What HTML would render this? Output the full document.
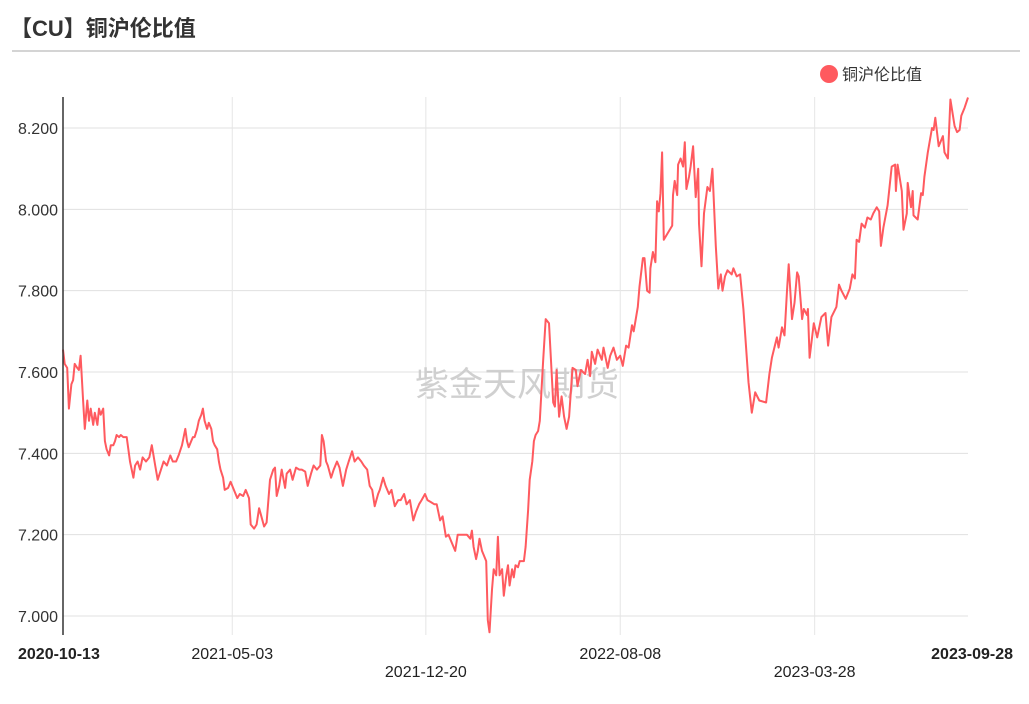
<!DOCTYPE html>
<html><head><meta charset="utf-8"><style>
body{margin:0;background:#fff;width:1029px;height:699px;overflow:hidden;font-family:"Liberation Sans","Noto Sans CJK SC",sans-serif}
</style></head><body>
<svg id="chart" width="1029" height="699" xmlns="http://www.w3.org/2000/svg" font-family="Liberation Sans, Noto Sans CJK SC, sans-serif">
<text x="10" y="36" font-size="22" font-weight="bold" fill="#333">【CU】铜沪伦比值</text>
<line x1="12" y1="51" x2="1020" y2="51" stroke="#aaa" stroke-width="1"/>
<g><circle cx="829" cy="74" r="9" fill="#ff5a5f"/><text x="842" y="80" font-size="16" fill="#333">铜沪伦比值</text></g>
<g id="grid"></g><g id="yticks"></g><g id="xticks"></g>
<text x="517" y="396" font-size="34" fill="#ccc" text-anchor="middle" opacity="0.9">紫金天风期货</text>
<path id="series" fill="none" stroke="#ff5a5f" stroke-width="2" stroke-linejoin="round"/>
<line x1="63" y1="97" x2="63" y2="635" stroke="#333" stroke-width="1.5"/>
</svg>
<script>
const days=[0,2,5,7,10,12,14,17,19,21,24,26,29,31,33,36,38,41,43,45,48,50,52,55,57,60,62,64,67,69,72,74,76,80,84,86,89,92,95,99,103,106,110,113,117,120,124,128,131,135,138,142,146,148,150,153,155,157,160,162,165,167,169,172,174,177,179,181,184,186,188,191,193,197,200,204,208,211,215,218,222,224,228,231,234,236,240,243,247,251,253,255,258,261,265,267,271,274,278,282,285,289,292,296,299,303,307,309,311,314,316,320,323,327,330,334,338,341,345,348,352,356,359,363,366,369,372,376,378,382,385,389,392,396,400,403,407,410,414,418,421,425,428,432,435,439,443,446,450,453,457,460,464,468,471,475,478,482,486,488,490,493,495,497,500,502,505,507,509,512,514,517,519,521,524,526,529,531,533,536,538,540,543,545,550,552,555,557,560,562,564,567,569,573,576,580,583,585,587,589,592,595,598,601,604,608,612,614,618,623,626,629,631,635,638,643,645,650,653,657,661,665,668,672,675,679,681,686,688,692,694,697,700,701,704,707,709,711,713,715,717,727,728,730,733,734,737,740,742,744,747,749,752,755,758,759,762,765,769,772,775,779,782,785,787,790,793,798,800,804,808,812,818,822,826,831,839,843,846,852,854,858,861,864,866,870,873,876,878,882,884,888,889,891,896,900,905,910,913,917,923,926,929,934,939,942,945,947,950,953,957,960,964,967,971,974,976,979,984,989,993,994,996,1001,1003,1007,1008,1012,1014,1015,1020,1024,1026,1028,1032,1037,1039,1041,1045,1050,1052,1056,1059,1064,1067,1070,1072,1076,1080];
const values=[7.655,7.62,7.61,7.51,7.57,7.58,7.62,7.61,7.605,7.64,7.53,7.46,7.53,7.48,7.51,7.47,7.50,7.47,7.51,7.495,7.51,7.43,7.41,7.395,7.42,7.42,7.43,7.445,7.44,7.445,7.44,7.44,7.44,7.38,7.34,7.37,7.38,7.36,7.39,7.38,7.39,7.42,7.37,7.335,7.36,7.38,7.37,7.395,7.38,7.38,7.395,7.42,7.46,7.43,7.415,7.43,7.44,7.44,7.46,7.48,7.495,7.51,7.48,7.46,7.475,7.46,7.43,7.42,7.41,7.38,7.36,7.34,7.31,7.315,7.33,7.31,7.29,7.30,7.295,7.31,7.29,7.225,7.215,7.225,7.265,7.25,7.22,7.23,7.335,7.36,7.365,7.295,7.32,7.36,7.315,7.35,7.36,7.335,7.365,7.36,7.36,7.355,7.32,7.35,7.37,7.36,7.37,7.445,7.43,7.38,7.37,7.34,7.36,7.38,7.365,7.32,7.36,7.38,7.405,7.38,7.39,7.38,7.37,7.36,7.32,7.31,7.27,7.30,7.31,7.34,7.32,7.30,7.31,7.27,7.285,7.285,7.30,7.275,7.285,7.235,7.255,7.275,7.285,7.30,7.285,7.28,7.275,7.275,7.235,7.245,7.195,7.20,7.18,7.16,7.20,7.20,7.20,7.20,7.19,7.21,7.17,7.14,7.16,7.19,7.16,7.15,7.135,6.99,6.96,7.065,7.115,7.10,7.195,7.10,7.115,7.05,7.10,7.125,7.075,7.115,7.095,7.125,7.12,7.135,7.135,7.17,7.26,7.335,7.38,7.43,7.445,7.455,7.48,7.63,7.73,7.72,7.605,7.525,7.515,7.605,7.49,7.54,7.49,7.46,7.49,7.61,7.605,7.565,7.605,7.595,7.63,7.59,7.65,7.62,7.655,7.63,7.66,7.61,7.64,7.66,7.63,7.64,7.615,7.665,7.66,7.715,7.70,7.76,7.81,7.88,7.88,7.80,7.795,7.855,7.895,7.87,8.02,7.995,8.04,8.14,7.925,7.96,8.035,8.07,8.035,8.11,8.125,8.105,8.165,8.05,8.08,8.105,8.155,8.03,8.10,7.965,7.86,7.99,8.055,8.045,8.10,7.91,7.805,7.84,7.80,7.835,7.85,7.84,7.855,7.835,7.84,7.755,7.575,7.50,7.55,7.53,7.525,7.595,7.635,7.685,7.66,7.71,7.69,7.80,7.865,7.73,7.77,7.845,7.835,7.73,7.755,7.74,7.755,7.635,7.72,7.685,7.735,7.745,7.665,7.735,7.76,7.815,7.80,7.78,7.805,7.84,7.83,7.925,7.92,7.965,7.955,7.98,7.975,7.99,8.005,7.995,7.91,7.955,8.01,8.105,8.11,8.045,8.11,8.045,7.95,7.99,8.065,8.005,8.045,7.985,7.975,8.04,8.035,8.08,8.14,8.20,8.195,8.225,8.155,8.18,8.14,8.125,8.27,8.205,8.19,8.195,8.23,8.25,8.275];
const yTicks=[7.0,7.2,7.4,7.6,7.8,8.0,8.2];
const xTickDays=[0,202,433,665,897,1080];
const xTickLabels=["2020-10-13","2021-05-03","2021-12-20","2022-08-08","2023-03-28","2023-09-28"];
const NS="http://www.w3.org/2000/svg";
const X0=63,X1=968,DMAX=1080;
function xs(d){return X0+(d/DMAX)*(X1-X0);}
function ys(v){return 616-(v-7.0)*(488/1.2);}
const grid=document.getElementById('grid'),yg=document.getElementById('yticks'),xg=document.getElementById('xticks');
yTicks.forEach(v=>{
  const l=document.createElementNS(NS,'line');
  
  
  l.setAttribute('x1',X0);l.setAttribute('x2',X1);l.setAttribute('y1',ys(v));l.setAttribute('y2',ys(v));
  l.setAttribute('stroke','#e0e0e0');l.setAttribute('stroke-width','1');grid.appendChild(l);
  const t=document.createElementNS(NS,'text');
  
  
  t.setAttribute('x',58);t.setAttribute('y',ys(v)+6);t.setAttribute('text-anchor','end');
  t.setAttribute('font-size','16');t.setAttribute('fill','#333');t.textContent=v.toFixed(3);yg.appendChild(t);
});
xTickDays.forEach((d,i)=>{
  const x=xs(d);
  if(i>0&&i<xTickDays.length-1){
    const l=document.createElementNS(NS,'line');
    
    
    l.setAttribute('x1',x);l.setAttribute('x2',x);l.setAttribute('y1',97);l.setAttribute('y2',635);
    l.setAttribute('stroke','#e6e6e6');l.setAttribute('stroke-width','1');grid.appendChild(l);
  }
  const t=document.createElementNS(NS,'text');
  
  
  t.setAttribute('y',i%2===1?659:677);
  t.setAttribute('font-size','16');t.setAttribute('fill','#222');
  if(i===0){t.setAttribute('x',18);t.setAttribute('font-weight','bold');t.setAttribute('y',659);}
  else if(i===xTickDays.length-1){t.setAttribute('x',1013);t.setAttribute('text-anchor','end');t.setAttribute('font-weight','bold');t.setAttribute('y',659);}
  else{t.setAttribute('x',x);t.setAttribute('text-anchor','middle');}
  t.textContent=xTickLabels[i];xg.appendChild(t);
});
let dstr='';
values.forEach((v,i)=>{dstr+=(i?'L':'M')+xs(days[i]).toFixed(1)+','+ys(v).toFixed(1);});
document.getElementById('series').setAttribute('d',dstr);
</script>
</body></html>
